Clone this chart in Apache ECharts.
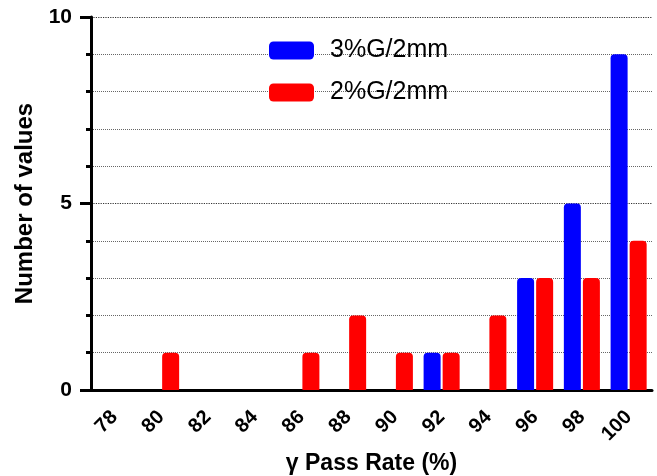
<!DOCTYPE html>
<html>
<head>
<meta charset="utf-8">
<script src="https://cdn.jsdelivr.net/npm/echarts@6/dist/echarts.min.js"></script>
<style>
  html, body { margin: 0; padding: 0; background: #fff; }
  #main { width: 657px; height: 476px; }
</style>
</head>
<body>
<div id="main"></div>
<script>
// pass rate bins (%)
const passRates = ['78', '80', '82', '84', '86', '88', '90', '92', '94', '96', '98', '100']
// number of plans in each bin
const count3G2mm = [0, 0, 0, 0, 0, 0, 0, 1, 0, 3, 5, 9]
const count2G2mm = [0, 1, 0, 0, 1, 2, 1, 1, 2, 3, 3, 4]
const yTickLabels = [0, 5, 10]

const font = 'Arial, "Liberation Sans", sans-serif'

const myChart = echarts.init(document.getElementById('main'))
const option = {
  animation: false,
  textStyle: { fontFamily: font },
  grid: { left: 91, right: 5, top: 17, bottom: 86, outerBoundsMode: 'none' },
  legend: {
    orient: 'vertical',
    left: 264,
    top: 33,
    itemWidth: 45,
    itemHeight: 18,
    itemGap: 17,
    icon: 'roundRect',
    textStyle: { fontSize: 25, color: '#000', fontFamily: font, padding: [0, 0, 0, 11] },
    data: ['3%G/2mm', '2%G/2mm'],
  },
  xAxis: {
    type: 'category',
    data: passRates,
    name: 'γ Pass Rate (%)',
    nameLocation: 'middle',
    nameGap: 61,
    nameTextStyle: { fontSize: 23, fontWeight: 'bold', color: '#000' },
    axisLine: { lineStyle: { color: '#000', width: 3 } },
    axisTick: { alignWithLabel: true, length: 9, lineStyle: { color: '#000', width: 3 } },
    axisLabel: { rotate: 45, margin: 24, fontSize: 20, fontWeight: 'bold', color: '#000' },
  },
  yAxis: {
    type: 'value',
    min: 0,
    max: 10,
    interval: 5,
    name: 'Number of values',
    nameLocation: 'middle',
    nameGap: 54,
    nameTextStyle: { fontSize: 24, fontWeight: 'bold', color: '#000' },
    axisLine: { show: true, lineStyle: { color: '#000', width: 3 } },
    axisTick: { show: true, length: 11, lineStyle: { color: '#000', width: 3 } },
    minorTick: { show: true, splitNumber: 5, length: 5, lineStyle: { color: '#000', width: 3 } },
    axisLabel: {
      margin: 19, fontSize: 21, fontWeight: 'bold', color: '#000',
      formatter: v => (yTickLabels.includes(v) ? String(v) : ''),
    },
    splitLine: { show: true, lineStyle: { color: '#333', type: 'dotted', width: 1.2 } },
    minorSplitLine: { show: true, lineStyle: { color: '#666', type: 'dotted', width: 1 } },
  },
  series: [
    {
      name: '3%G/2mm', type: 'bar', barWidth: 17, barGap: '12%',
      itemStyle: { color: '#0000FF', borderRadius: [4, 4, 0, 0] },
      data: count3G2mm,
    },
    {
      name: '2%G/2mm', type: 'bar', barWidth: 17,
      itemStyle: { color: '#FF0000', borderRadius: [4, 4, 0, 0] },
      data: count2G2mm,
    },
  ],
}
option && myChart.setOption(option)
</script>
</body>
</html>
